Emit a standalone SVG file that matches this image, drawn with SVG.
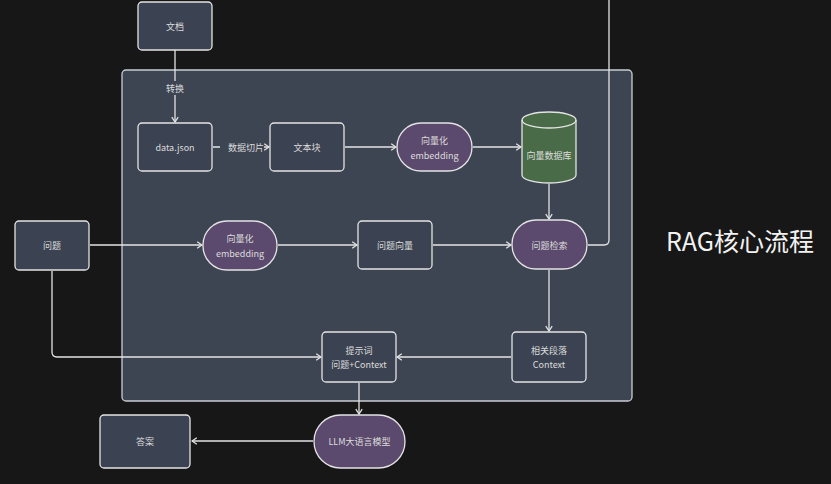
<svg xmlns="http://www.w3.org/2000/svg" width="831" height="484" viewBox="0 0 831 484">
<defs>
<style>
text{font-family:"Noto Sans CJK SC","Noto Sans",sans-serif;fill:#dcdcdc;font-size:9px;text-anchor:middle;dominant-baseline:central}
.box{fill:#3b4251;stroke:#e4e4e4;stroke-width:1.3}
.pill{fill:#5b4a6d;stroke:#e4e4e4;stroke-width:1.3}
.cyl{fill:#4a6b47;stroke:#e4e4e4;stroke-width:1.3}
.ln{fill:none;stroke:#e4e4e4;stroke-width:1.3}
.lbl{fill:#3d4452}
</style>
<marker id="ar" viewBox="0 0 10 10" refX="9" refY="5" markerWidth="8" markerHeight="8" markerUnits="userSpaceOnUse" orient="auto">
<polyline points="3,1 9,5 3,9" fill="none" stroke="#e4e4e4" stroke-width="1.6"/>
</marker>
</defs>
<rect width="831" height="484" fill="#171717"/>
<g id="container"><rect x="122" y="70" width="510" height="331" rx="4" fill="#3d4452" stroke="#c9cdd3" stroke-width="1.3"/></g>
<text x="740" y="240" style="font-size:25px;fill:#f2f2f2">RAG核心流程</text>
<g id="connectors">
<path class="ln" d="M175,50V122" marker-end="url(#ar)"/>
<rect class="lbl" x="164" y="81" width="22" height="14"/>
<text x="175" y="88">转换</text>
<path class="ln" d="M213,147H269" marker-end="url(#ar)"/>
<rect class="lbl" x="220" y="140" width="44" height="14"/>
<text x="246" y="147">数据切片</text>
<path class="ln" d="M345,147H396" marker-end="url(#ar)"/>
<path class="ln" d="M473,147H521" marker-end="url(#ar)"/>
<path class="ln" d="M549,184V219" marker-end="url(#ar)"/>
<path class="ln" d="M90,245H202" marker-end="url(#ar)"/>
<path class="ln" d="M278,245H357" marker-end="url(#ar)"/>
<path class="ln" d="M433,245H511" marker-end="url(#ar)"/>
<path class="ln" d="M588,245H604Q609,245 609,240V0"/>
<path class="ln" d="M549,270V331" marker-end="url(#ar)"/>
<path class="ln" d="M511,357H397" marker-end="url(#ar)"/>
<path class="ln" d="M52,271V352Q52,357 57,357H321" marker-end="url(#ar)"/>
<path class="ln" d="M359,383V414" marker-end="url(#ar)"/>
<path class="ln" d="M313,441H192" marker-end="url(#ar)"/>
</g>
<g id="wendang"><rect class="box" x="138" y="2" width="74" height="48" rx="4"/><text x="175" y="26">文档</text></g>
<g id="datajson"><rect class="box" x="138" y="123" width="74" height="48" rx="4"/><text x="175" y="147">data.json</text></g>
<g id="wenbenkuai"><rect class="box" x="270" y="123" width="74" height="48" rx="4"/><text x="307" y="147">文本块</text></g>
<g id="embed1"><rect class="pill" x="397" y="123" width="75" height="48" rx="24"/><text x="434.5" y="140">向量化</text><text x="434.5" y="155">embedding</text></g>
<g id="vectordb"><path class="cyl" d="M522,120V175A27,8 0 0 0 576,175V120A27,8 0 0 0 522,120Z"/><path class="ln" d="M522,120A27,8 0 0 0 576,120"/><text x="549" y="155">向量数据库</text></g>
<g id="wenti"><rect class="box" x="15" y="221" width="74" height="49" rx="4"/><text x="52" y="245">问题</text></g>
<g id="embed2"><rect class="pill" x="203" y="221" width="74" height="49" rx="24"/><text x="240" y="238">向量化</text><text x="240" y="253">embedding</text></g>
<g id="wentixiangliang"><rect class="box" x="358" y="221" width="74" height="48" rx="4"/><text x="395" y="245">问题向量</text></g>
<g id="jiansuo"><rect class="pill" x="512" y="220" width="75" height="49" rx="24"/><text x="549.5" y="245">问题检索</text></g>
<g id="duanluo"><rect class="box" x="512" y="332" width="74" height="50" rx="4"/><text x="549" y="350">相关段落</text><text x="549" y="364">Context</text></g>
<g id="tishici"><rect class="box" x="322" y="332" width="74" height="50" rx="4"/><text x="359" y="350">提示词</text><text x="359" y="364">问题+Context</text></g>
<g id="llm"><rect class="pill" x="314" y="415" width="91" height="53" rx="26.5"/><text x="359.5" y="441">LLM大语言模型</text></g>
<g id="daan"><rect class="box" x="100" y="415" width="90" height="53" rx="4"/><text x="145" y="441">答案</text></g>
</svg>
